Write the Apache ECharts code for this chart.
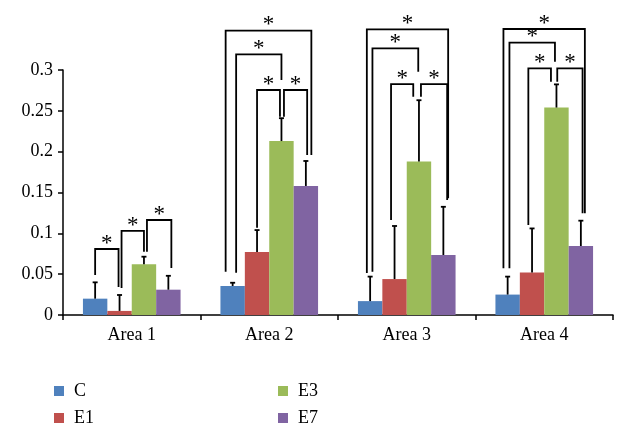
<!DOCTYPE html>
<html>
<head>
<meta charset="utf-8">
<script src="https://cdn.jsdelivr.net/npm/echarts@6/dist/echarts.min.js"></script>
<style>html,body{margin:0;padding:0;background:#fff}#c{width:626px;height:438px}</style>
</head>
<body>
<div id="c"></div>
<script>
var categories = ['Area 1', 'Area 2', 'Area 3', 'Area 4'];
var seriesNames = ['C', 'E1', 'E3', 'E7'];
var valC  = [0.020, 0.0355, 0.017, 0.025];
var valE1 = [0.005, 0.077, 0.044, 0.052];
var valE3 = [0.062, 0.213, 0.188, 0.254];
var valE7 = [0.031, 0.158, 0.0735, 0.0845];
var errC  = [0.020, 0.004, 0.030, 0.022];
var errE1 = [0.0195, 0.027, 0.065, 0.054];
var errE3 = [0.0094, 0.028, 0.075, 0.0284];
var errE7 = [0.017, 0.0306, 0.059, 0.031];
var yTicks = [0, 0.05, 0.1, 0.15, 0.2, 0.25, 0.3];
// significance brackets: [category, left series, right series, top value, left leg end value, right leg end value]
var brackets = [
  [0, 0, 1, 0.0808, 0.049, 0.0343],
  [0, 1, 2, 0.1029, 0.033, 0.0775],
  [0, 2, 3, 0.1163, 0.0775, 0.0576],
  [1, 0, 3, 0.3481, 0.053, 0.1959],
  [1, 0, 2, 0.3192, 0.0518, 0.2877],
  [1, 1, 2, 0.2755, 0.1069, 0.2428],
  [1, 2, 3, 0.2755, 0.2428, 0.1959],
  [2, 0, 3, 0.3498, 0.0514, 0.1429],
  [2, 0, 2, 0.3266, 0.053, 0.2979],
  [2, 1, 2, 0.2828, 0.1163, 0.2673],
  [2, 2, 3, 0.2828, 0.2673, 0.1408],
  [3, 0, 3, 0.3502, 0.0572, 0.1245],
  [3, 0, 2, 0.3334, 0.0572, 0.3101],
  [3, 1, 2, 0.3021, 0.1102, 0.2857],
  [3, 2, 3, 0.3021, 0.2857, 0.1245]
];
// styling: horizontal leg shifts (px) relative to bar centres
var legShift = [
  [0, -1], [2, 0], [3, 3],
  [-7, 5.5], [3.5, 0], [0, -1.5], [2.5, 1.3],
  [-3.3, 4.8], [2.3, -0.7], [-3.5, -5.7], [2, 3.8],
  [-4.2, 4], [1.8, -1.5], [-3.7, -5.5], [0.8, 1.7]
];

var colors = ['#4F81BD', '#C0504D', '#9BBB59', '#8064A2'];
var vals = [valC, valE1, valE3, valE7];
var errs = [errC, errE1, errE3, errE7];
var GAP = 0.29;
var FONT = 'Liberation Serif';

function barX(api, cat, s) {
  var band = api.size([1, 0])[0];
  var bw = band * (1 - GAP) / 4;
  return api.coord([cat, 0])[0] + (s - 1.5) * bw;
}

var errData = [];
for (var s = 0; s < 4; s++) {
  for (var c = 0; c < 4; c++) {
    errData.push([c, s, vals[s][c], vals[s][c] + errs[s][c]]);
  }
}
var brData = brackets.map(function (b, i) { return b.concat([i]); });

var series = seriesNames.map(function (n, i) {
  return {
    name: n, type: 'bar', data: vals[i], barGap: 0, barCategoryGap: (GAP * 100) + '%',
    itemStyle: { color: colors[i] }
  };
});
series.push({
  type: 'custom', clip: false, z: 5, silent: true,
  encode: { x: 0, y: 3 },
  data: errData,
  renderItem: function (params, api) {
    var cat = api.value(0), s = api.value(1);
    var x = barX(api, cat, s);
    var y0 = api.coord([cat, api.value(2)])[1];
    var y1 = api.coord([cat, api.value(3)])[1];
    return {
      type: 'group', children: [
        { type: 'line', shape: { x1: x, y1: y0, x2: x, y2: y1 }, style: { stroke: '#000', lineWidth: 1.8 } },
        { type: 'line', shape: { x1: x - 2.5, y1: y1, x2: x + 2.5, y2: y1 }, style: { stroke: '#000', lineWidth: 1.8 } }
      ]
    };
  }
});
series.push({
  type: 'custom', clip: false, z: 6, silent: true,
  encode: { x: 0, y: 3 },
  data: brData,
  renderItem: function (params, api) {
    var cat = api.value(0), l = api.value(1), r = api.value(2);
    var idx = api.value(6);
    var xl = barX(api, cat, l) + legShift[idx][0];
    var xr = barX(api, cat, r) + legShift[idx][1];
    var yt = api.coord([cat, api.value(3)])[1];
    var yl = api.coord([cat, api.value(4)])[1];
    var yr = api.coord([cat, api.value(5)])[1];
    return {
      type: 'group', children: [
        { type: 'polyline', shape: { points: [[xl, yl], [xl, yt], [xr, yt], [xr, yr]] },
          style: { stroke: '#000', lineWidth: 1.8, fill: null } },
        { type: 'text', x: (xl + xr) / 2, y: yt + 6,
          style: { text: '*', font: '23px "' + FONT + '"', fill: '#000', align: 'center', verticalAlign: 'bottom' } }
      ]
    };
  }
});

var chart = echarts.init(document.getElementById('c'), null, { renderer: 'canvas' });
chart.setOption({
  animation: false,
  backgroundColor: '#fff',
  grid: { left: 63, right: 13, top: 70, bottom: 123, containLabel: false },
  legend: [
    { data: ['C', 'E1'], orient: 'vertical', left: 54, top: 382, padding: 0, itemWidth: 10, itemHeight: 10, itemGap: 9,
      icon: 'rect', textStyle: { fontFamily: FONT, fontSize: 18, color: '#000', padding: [0, 0, 0, 5] } },
    { data: ['E3', 'E7'], orient: 'vertical', left: 278, top: 382, padding: 0, itemWidth: 10, itemHeight: 10, itemGap: 9,
      icon: 'rect', textStyle: { fontFamily: FONT, fontSize: 18, color: '#000', padding: [0, 0, 0, 5] } }
  ],
  xAxis: {
    type: 'category', data: categories,
    axisLine: { lineStyle: { color: '#000', width: 1.5 } },
    axisTick: { show: true, length: 5, lineStyle: { color: '#000', width: 1.5 } },
    axisLabel: { fontFamily: FONT, fontSize: 18, color: '#000', margin: 11 }
  },
  yAxis: {
    type: 'value', min: 0, max: 0.3, interval: 0.05,
    axisLine: { show: true, lineStyle: { color: '#000', width: 1.5 } },
    axisTick: { show: true, length: 5, lineStyle: { color: '#000', width: 1.5 } },
    splitLine: { show: false },
    axisLabel: { fontFamily: FONT, fontSize: 18, color: '#000', margin: 10,
      formatter: function (v) { var t = yTicks.filter(function (k) { return Math.abs(k - v) < 1e-9; }); return t.length ? String(t[0]) : ''; } }
  },
  series: series
});
</script>
</body>
</html>
